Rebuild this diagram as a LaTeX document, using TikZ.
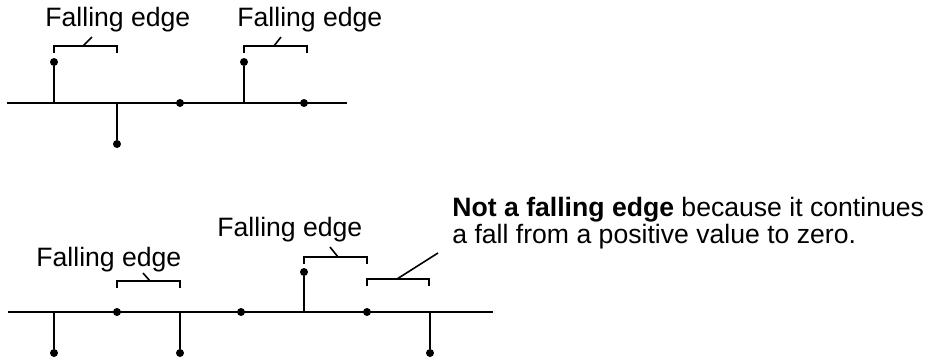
\documentclass[tikz,border=0pt]{standalone}
\usepackage{fontspec}
\setmainfont{Liberation Sans}
\usetikzlibrary{positioning}

\begin{document}
\begin{tikzpicture}[
  x=0.5pt, y=-0.5pt,
  every node/.style={font=\fontsize{13.3pt}{13.5pt}\selectfont, inner sep=0pt},
  axis/.style={line width=1pt},
  stem/.style={line width=1pt},
  dot/.style={circle, fill=black, minimum size=4pt},
  brace/.style={line width=0.8pt},
  note/.style={anchor=base west, align=left}
]
\useasboundingbox (0,0) rectangle (927,359);
\node[note] (fall1) at (45,26) {Falling edge};
\node[note] (fall2) at (237,26) {Falling edge};
\node[note] (fall3) at (36,266) {Falling edge};
\node[note] (fall4) at (217,236) {Falling edge};
\node[note] (notfall) at (452,243) {\textbf{Not a falling edge} because it continues\\a fall from a positive value to zero.};
\coordinate (topL) at (7,103);
\coordinate (topR) at (347,103);
\coordinate (botL) at (8,312);
\coordinate (botR) at (493,312);
\coordinate (t1) at (54,103);
\coordinate (t2) at (117,103);
\coordinate (t4) at (244,103);
\coordinate (b1) at (54,312);
\coordinate (b3) at (180,312);
\coordinate (b5) at (304,312);
\coordinate (b7) at (430,312);
\node[dot] (t1p) at (54,62) {};
\node[dot] (t2p) at (117,144) {};
\node[dot] (t3p) at (180,103) {};
\node[dot] (t4p) at (244,62) {};
\node[dot] (t5p) at (304,103) {};
\node[dot] (b1p) at (54,353) {};
\node[dot] (b2p) at (117,312) {};
\node[dot] (b3p) at (180,353) {};
\node[dot] (b4p) at (241,312) {};
\node[dot] (b5p) at (304,272) {};
\node[dot] (b6p) at (367,312) {};
\node[dot] (b7p) at (430,353) {};
\coordinate (tb1) at (83,46);
\coordinate (tb1end) at (92,37);
\coordinate (tb2) at (274,46);
\coordinate (tb2end) at (281,37);
\coordinate (bb1) at (150,281);
\coordinate (bb1end) at (143,273);
\coordinate (bb2) at (338,257);
\coordinate (bb2end) at (330,247);
\coordinate (bb3) at (397,279);
\coordinate (bb3end) at (438,253);
\draw[axis] (topL) -- (topR);
\draw[axis] (botL) -- (botR);
\draw[stem] (t1) -- (t1p);
\draw[stem] (t2) -- (t2p);
\draw[stem] (t4) -- (t4p);
\draw[stem] (b1) -- (b1p);
\draw[stem] (b3) -- (b3p);
\draw[stem] (b5) -- (b5p);
\draw[stem] (b7) -- (b7p);
\draw[brace] (54,53) -- (54,46) -- (117,46) -- (117,53);
\draw[brace] (244,53) -- (244,46) -- (307,46) -- (307,53);
\draw[brace] (117,288) -- (117,281) -- (180,281) -- (180,288);
\draw[brace] (304,264) -- (304,257) -- (367,257) -- (367,264);
\draw[brace] (367,286) -- (367,279) -- (429,279) -- (429,286);
\draw[brace] (tb1) -- (tb1end);
\draw[brace] (tb2) -- (tb2end);
\draw[brace] (bb1) -- (bb1end);
\draw[brace] (bb2) -- (bb2end);
\draw[brace] (bb3) -- (bb3end);
\end{tikzpicture}
\end{document}
